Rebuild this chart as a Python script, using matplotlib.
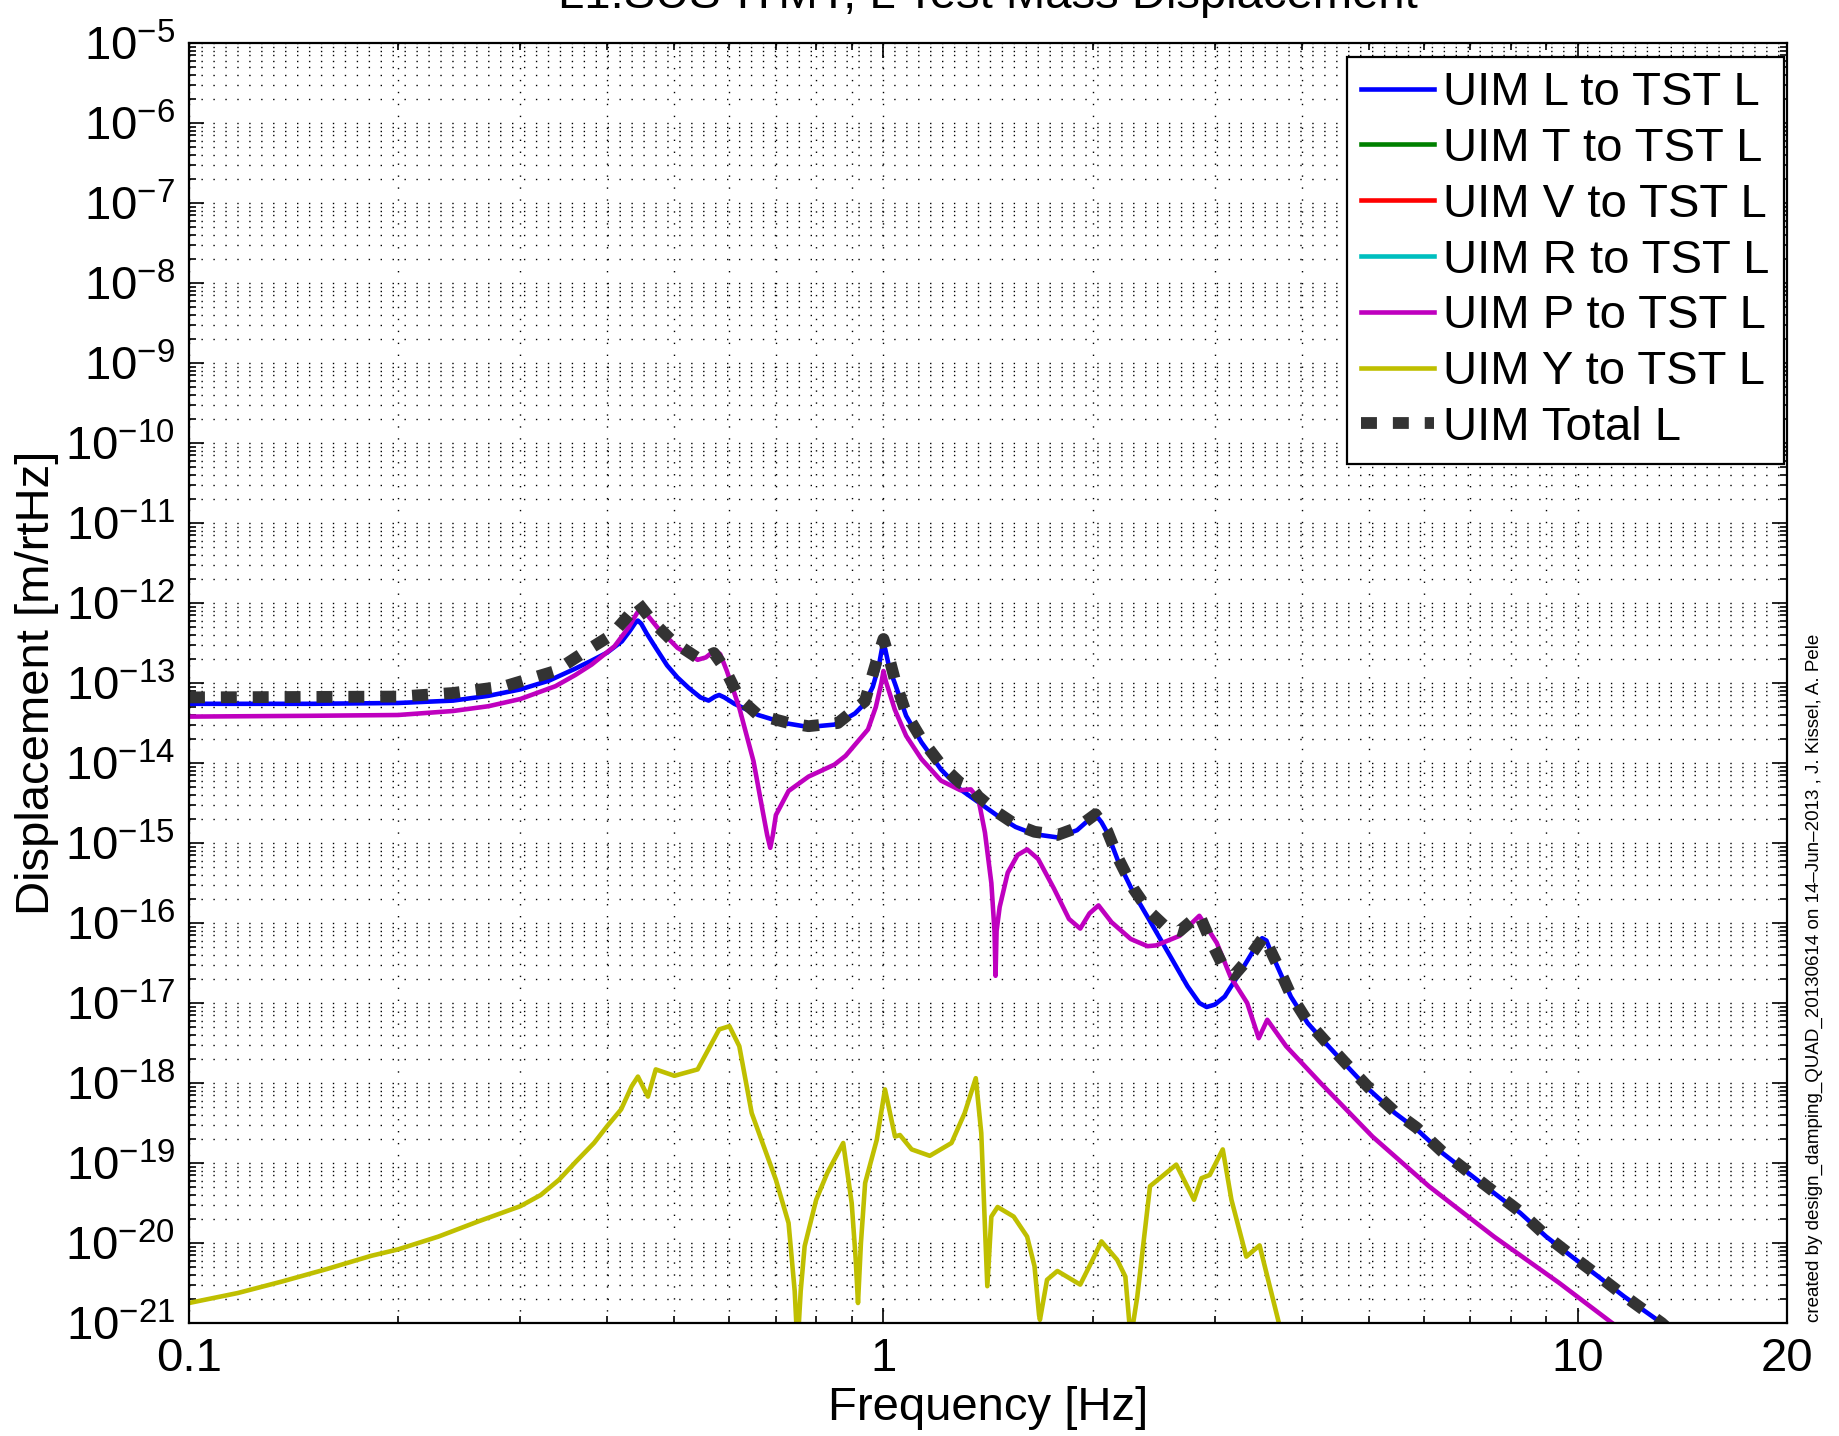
import numpy as np
import matplotlib
matplotlib.use("Agg")
import matplotlib.pyplot as plt
from matplotlib.ticker import FixedLocator, FixedFormatter, LogLocator, NullFormatter, LogFormatterMathtext

plt.rcParams['font.family'] = ['Liberation Sans', 'DejaVu Sans']
plt.rcParams['mathtext.fontset'] = 'custom'
plt.rcParams['mathtext.rm'] = 'Liberation Sans'
plt.rcParams['mathtext.it'] = 'Liberation Sans:italic'
plt.rcParams['mathtext.bf'] = 'Liberation Sans:bold'

# ---------------- data (frequency [Hz], log10 displacement [m/rtHz]) ----------------
f_L = [0.1, 0.15, 0.2, 0.24, 0.27, 0.3, 0.33, 0.36, 0.38, 0.40, 0.42, 0.432, 0.439, 0.443,
       0.448, 0.456, 0.47, 0.488, 0.505, 0.524, 0.545, 0.56, 0.572, 0.58, 0.59, 0.61, 0.66,
       0.72, 0.78, 0.85, 0.882, 0.91, 0.939, 0.965, 0.985, 0.996, 1.0, 1.006, 1.02, 1.038,
       1.078, 1.134, 1.21, 1.29, 1.37, 1.46, 1.55, 1.65, 1.78, 1.90, 1.97, 2.01, 2.03, 2.06,
       2.10, 2.18, 2.29, 2.41, 2.57, 2.74, 2.85, 2.92, 3.0, 3.1, 3.31, 3.45, 3.51, 3.56, 3.62,
       3.69, 3.86, 4.08, 4.33, 4.65, 5.0, 5.45, 5.86, 6.38, 6.95, 7.57, 8.26, 9.0, 9.8, 10.7,
       11.66, 13.2, 14.0]
logL = [-13.26, -13.26, -13.25, -13.22, -13.16, -13.08, -12.97, -12.82, -12.72, -12.62, -12.48,
        -12.34, -12.25, -12.22, -12.26, -12.38, -12.56, -12.78, -12.93, -13.06, -13.18, -13.22,
        -13.17, -13.15, -13.18, -13.26, -13.40, -13.50, -13.55, -13.52, -13.45, -13.38, -13.26,
        -13.05, -12.78, -12.55, -12.50, -12.58, -12.82, -13.00, -13.41, -13.74, -14.08, -14.33,
        -14.49, -14.66, -14.80, -14.89, -14.93, -14.84, -14.72, -14.66, -14.67, -14.74, -14.87,
        -15.24, -15.62, -15.95, -16.37, -16.79, -17.00, -17.05, -17.02, -16.92, -16.53, -16.27,
        -16.19, -16.22, -16.38, -16.54, -16.92, -17.25, -17.50, -17.79, -18.08, -18.375, -18.58,
        -18.875, -19.125, -19.375, -19.625, -19.92, -20.17, -20.42, -20.67, -21.0, -21.2]

f_T, logT = [], []   # UIM T to TST L: below plotted range
f_V, logV = [], []   # UIM V to TST L: below plotted range
f_R, logR = [], []   # UIM R to TST L: below plotted range

f_P = [0.1, 0.15, 0.2, 0.24, 0.27, 0.3, 0.337, 0.36, 0.38, 0.41, 0.43, 0.44, 0.446, 0.452,
       0.46, 0.473, 0.505, 0.54, 0.555, 0.566, 0.574, 0.582, 0.595, 0.62, 0.65, 0.67, 0.68,
       0.687, 0.693, 0.70, 0.73, 0.78, 0.85, 0.882, 0.95, 0.975, 0.993, 1.0, 1.008, 1.02, 1.038,
       1.078, 1.134, 1.21, 1.29, 1.336, 1.37, 1.40, 1.43, 1.445, 1.45, 1.455, 1.47, 1.51, 1.56,
       1.61, 1.67, 1.76, 1.85, 1.92, 1.98, 2.04, 2.13, 2.27, 2.40, 2.47, 2.67, 2.78, 2.85, 2.92,
       3.02, 3.16, 3.34, 3.47, 3.57, 3.8, 4.26, 5.06, 6.1, 7.57, 9.4, 11.2, 12.0]
logP = [-13.42, -13.41, -13.40, -13.35, -13.29, -13.20, -13.04, -12.90, -12.77, -12.54, -12.30,
        -12.15, -12.07, -12.10, -12.18, -12.31, -12.56, -12.71, -12.68, -12.62, -12.60, -12.64,
        -12.85, -13.31, -13.98, -14.60, -14.90, -15.06, -14.90, -14.65, -14.35, -14.17, -14.02,
        -13.91, -13.58, -13.30, -13.00, -12.85, -12.98, -13.12, -13.33, -13.66, -13.95, -14.22,
        -14.34, -14.33, -14.45, -14.87, -15.50, -16.10, -16.66, -16.10, -15.80, -15.37, -15.15,
        -15.08, -15.20, -15.57, -15.95, -16.07, -15.88, -15.78, -15.99, -16.20, -16.29, -16.28,
        -16.16, -16.00, -15.91, -16.05, -16.25, -16.67, -17.00, -17.44, -17.21, -17.54, -18.00,
        -18.67, -19.29, -19.92, -20.50, -21.0, -21.2]

f_Y = [0.1, 0.1176, 0.1363, 0.158, 0.183, 0.2, 0.2286, 0.261, 0.3, 0.321, 0.341, 0.361, 0.383,
       0.4, 0.419, 0.434, 0.443, 0.458, 0.470, 0.50, 0.54, 0.58, 0.60, 0.62, 0.646, 0.70, 0.73,
       0.745, 0.752, 0.76, 0.77, 0.80, 0.83, 0.875, 0.90, 0.912, 0.919, 0.928, 0.941, 0.978,
       1.005, 1.039, 1.056, 1.098, 1.166, 1.253, 1.309, 1.358, 1.383, 1.40, 1.411, 1.43, 1.46,
       1.54, 1.61, 1.65, 1.675, 1.68, 1.72, 1.78, 1.92, 1.99, 2.06, 2.17, 2.23, 2.27, 2.32,
       2.42, 2.50, 2.64, 2.80, 2.87, 2.95, 3.08, 3.17, 3.33, 3.48, 3.71, 3.8]
logY = [-20.75, -20.625, -20.48, -20.325, -20.16, -20.08, -19.92, -19.73, -19.54, -19.40,
        -19.21, -18.98, -18.75, -18.54, -18.33, -18.04, -17.92, -18.17, -17.83, -17.91, -17.83,
        -17.33, -17.29, -17.54, -18.375, -19.21, -19.75, -20.6, -21.3, -20.6, -20.04, -19.46,
        -19.125, -18.75, -19.5, -20.2, -20.75, -20.0, -19.25, -18.71, -18.08, -18.67, -18.65,
        -18.83, -18.91, -18.75, -18.375, -17.94, -18.625, -19.8, -20.54, -19.67, -19.55,
        -19.67, -19.92, -20.29, -20.9, -20.96, -20.46, -20.35, -20.52, -20.25, -19.98, -20.21,
        -20.42, -21.2, -20.67, -19.29, -19.19, -19.02, -19.46, -19.19, -19.15, -18.83, -19.46,
        -20.17, -20.03, -21.0, -21.4]

f_Tot = [0.1, 0.2, 0.24, 0.285, 0.337, 0.373, 0.406, 0.43, 0.443, 0.465, 0.497, 0.545, 0.57,
         0.59, 0.62, 0.66, 0.73, 0.78, 0.86, 0.94, 0.98, 1.0, 1.02, 1.04, 1.078, 1.134, 1.21,
         1.29, 1.336, 1.37, 1.46, 1.55, 1.65, 1.78, 1.90, 2.02, 2.10, 2.18, 2.29, 2.41, 2.55,
         2.67, 2.78, 2.85, 2.95, 3.10, 3.2, 3.35, 3.53, 3.69, 3.86, 4.08, 4.33, 4.65, 5.0, 5.45,
         5.86, 6.38, 6.95, 7.57, 8.26, 9.0, 9.8, 10.7, 11.66, 13.2, 14.0]
logTot = [-13.18, -13.17, -13.125, -13.04, -12.85, -12.60, -12.40, -12.15, -12.00, -12.23,
          -12.48, -12.71, -12.625, -12.81, -13.19, -13.40, -13.50, -13.54, -13.50, -13.23,
          -12.69, -12.45, -12.70, -12.98, -13.38, -13.70, -14.02, -14.25, -14.30, -14.42, -14.62,
          -14.77, -14.86, -14.90, -14.81, -14.64, -14.85, -15.20, -15.57, -15.85, -16.05, -16.10,
          -15.97, -15.90, -16.20, -16.58, -16.65, -16.45, -16.17, -16.52, -16.90, -17.23, -17.48,
          -17.77, -18.06, -18.36, -18.56, -18.86, -19.11, -19.36, -19.61, -19.91, -20.16, -20.41,
          -20.66, -21.0, -21.2]

labels = ['UIM L to TST L', 'UIM T to TST L', 'UIM V to TST L', 'UIM R to TST L',
          'UIM P to TST L', 'UIM Y to TST L', 'UIM Total L']
xtick_vals = [0.1, 1, 10, 20]
xtick_labels = ['0.1', '1', '10', '20']

# ---------------- figure ----------------
W, H = 1839, 1436
fig = plt.figure(figsize=(W / 100, H / 100), dpi=100)
left, right, top, bottom = 189, 1787, 43, 1323
ax = fig.add_axes([left / W, 1 - bottom / H, (right - left) / W, (bottom - top) / H])

def p(v):
    return np.power(10.0, np.asarray(v, dtype=float))

lw = 3.3
series = [
    (f_L, logL, (0, 0, 1)),
    (f_T, logT, (0, 0.5, 0)),
    (f_V, logV, (1, 0, 0)),
    (f_R, logR, (0, 0.75, 0.75)),
    (f_P, logP, (0.75, 0, 0.75)),
    (f_Y, logY, (0.75, 0.75, 0)),
]
handles = []
for (fx, ly, c), lab in zip(series, labels[:6]):
    h, = ax.plot(fx, p(ly), color=c, lw=lw, label=lab, solid_joinstyle='round')
    handles.append(h)
h, = ax.plot(f_Tot, p(logTot), color=(0.2, 0.2, 0.2), lw=8.5, linestyle=(0, (1.35, 1.35)),
             dash_capstyle='butt', dash_joinstyle='round', label=labels[6])
handles.append(h)

ax.set_xscale('log')
ax.set_yscale('log')
ax.set_xlim(0.1, 20)
ax.set_ylim(1e-21, 1e-5)

ax.xaxis.set_major_locator(FixedLocator(xtick_vals))
ax.xaxis.set_major_formatter(FixedFormatter(xtick_labels))
ax.xaxis.set_minor_locator(FixedLocator([0.2, 0.3, 0.4, 0.5, 0.6, 0.7, 0.8, 0.9,
                                         2, 3, 4, 5, 6, 7, 8, 9]))
ax.xaxis.set_minor_formatter(NullFormatter())
ax.yaxis.set_major_locator(LogLocator(base=10, numticks=30))
ax.yaxis.set_major_formatter(LogFormatterMathtext())
ax.yaxis.set_minor_locator(LogLocator(base=10, subs=np.arange(2, 10), numticks=300))
ax.yaxis.set_minor_formatter(NullFormatter())

grid_style = dict(color='k', linewidth=1.0, linestyle=(0, (1, 7.6)))
ax.grid(True, which='major', **grid_style)
ax.grid(True, which='minor', **grid_style)
ax.set_axisbelow(True)

ax.tick_params(which='both', direction='in', top=True, right=True, width=1.2)
ax.tick_params(which='major', length=11, labelsize=34, pad=10)
ax.tick_params(which='minor', length=5)
for s in ax.spines.values():
    s.set_linewidth(1.6)

fig.text((left + right) / 2 / W, 1 - 8 / H, 'L1:SUS-ITMY, L Test Mass Displacement',
         ha='center', va='baseline', fontsize=34)
fig.text((left + right) / 2 / W, 1 - 1408 / H, 'Frequency [Hz]', ha='center', va='center',
         fontsize=34)
fig.text(37 / W, 1 - (top + bottom) / 2 / H, 'Displacement [m/rtHz]', ha='center', va='center',
         rotation=90, fontsize=34)
fig.text(1814 / W, 1 - 1322 / H,
         'created by design_damping_QUAD_20130614 on 14\u2013Jun\u20132013 , J. Kissel, A. Pele',
         ha='center', va='bottom', rotation=90, fontsize=13.5)

leg = ax.legend(handles=handles, labels=labels, loc='upper right',
                bbox_to_anchor=(1784 / W, 1 - 57 / H), bbox_transform=fig.transFigure,
                borderaxespad=0, fontsize=34, handlelength=1.55, handletextpad=0.2,
                labelspacing=0.25, borderpad=0.3, fancybox=False, framealpha=1,
                edgecolor='k')
leg.get_frame().set_linewidth(1.6)

fig.savefig('out.png', dpi=100)
